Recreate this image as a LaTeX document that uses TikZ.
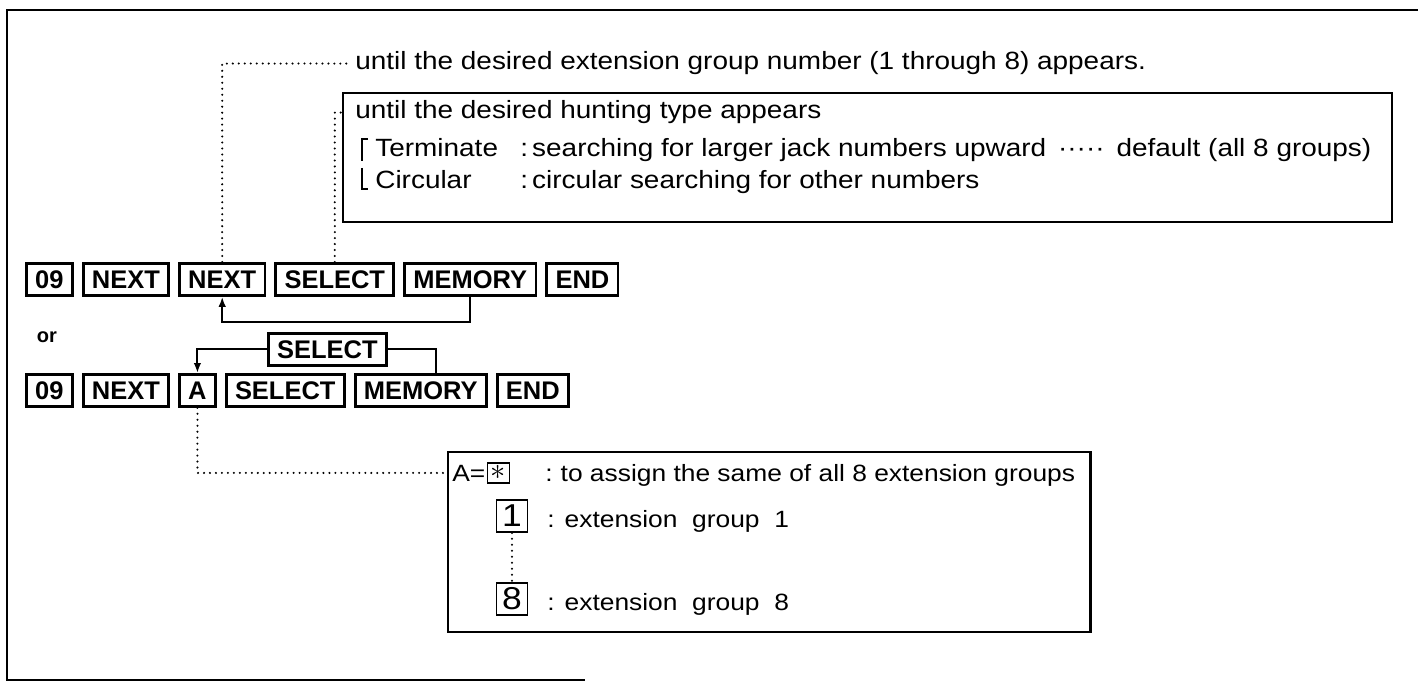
\documentclass[tikz,border=0pt]{standalone}
\usepackage{fontspec}
\setmainfont{Liberation Sans}
\newfontfamily\notefam{Liberation Sans}[FakeStretch=1.12]
\usetikzlibrary{positioning,arrows.meta,calc,fit}

\newcommand{\notesize}{\notefam\fontsize{14.2}{17}\selectfont}
\newcommand{\listsize}{\notefam\fontsize{13.4}{16}\selectfont}
\newcommand{\keysize}{\fontsize{14.5}{17}\selectfont\bfseries}
\newcommand{\digitsize}{\notefam\fontsize{18}{20}\selectfont}

\tikzset{
  key/.style={draw,line width=1.6pt,font=\keysize,inner xsep=5pt,inner ysep=2pt,
    minimum height=0.64cm},
  link/.style={line width=1.2pt},
  linkarrow/.style={-{Latex[length=2mm,width=1.5mm]},line width=1.2pt},
  dotline/.style={line width=1.3pt,line cap=round,dash pattern=on 0pt off 3.4pt},
  note/.style={font=\notesize,inner sep=0pt,anchor=base west},
  listnote/.style={font=\listsize,inner sep=0pt,anchor=base west},
  panel/.style={draw,line width=1.3pt,inner sep=0pt},
  digitbox/.style={draw,line width=1pt,font=\digitsize,inner sep=0pt,
    minimum width=0.62cm,minimum height=0.64cm},
  starbox/.style={draw,line width=1pt,inner sep=0pt,minimum width=0.44cm,
    minimum height=0.4cm,font=\fontsize{17}{17}\selectfont},
  frameline/.style={line width=1.6pt}
}

\begin{document}
\begin{tikzpicture}[x=0.02cm,y=-0.02cm,node distance=0.16cm]
  \useasboundingbox (0,0) rectangle (1418,682);
  \draw[frameline] (1418,10) -- (7,10) -- (7,680) -- (585,680);

  % first key sequence
  \node[key,anchor=north west] (zeroa) at (25,262) {09};
  \node[key,right=of zeroa] (nexta) {NEXT};
  \node[key,right=of nexta] (nextb) {NEXT};
  \node[key,right=of nextb] (sela) {SELECT};
  \node[key,right=of sela] (mema) {MEMORY};
  \node[key,right=of mema] (enda) {END};
  \draw[linkarrow] (mema.south) -- ++(0,25) -| (nextb.south);

  \node[font=\fontsize{11.4}{13}\selectfont\bfseries] (orword) at (47,337) {or};

  % second key sequence
  \node[key,anchor=north west] (zerob) at (25,373) {09};
  \node[key,right=of zerob] (nextc) {NEXT};
  \node[key,right=of nextc] (akey) {A};
  \node[key,right=of akey] (selb) {SELECT};
  \node[key,right=of selb] (memb) {MEMORY};
  \node[key,right=of memb] (endb) {END};
  \node[key,anchor=north west] (selmid) at (267,332) {SELECT};
  \draw[link] (selmid.east) -| ([xshift=0.3cm]memb.north);
  \draw[linkarrow] (selmid.west) -| (akey.north);

  % notes above
  \node[note] (topnote) at (355,70) {until the desired extension group number (1 through 8) appears.};
  \draw[dotline,shorten >=0.08cm] (nextb.north) |- (topnote.west);

  \node[note] (hunt) at (355,119) {until the desired hunting type appears};
  \node[note] (term) at (375,157) {\makebox[2.9cm][l]{Terminate}:\,searching for larger jack numbers upward \,·····\, default (all 8 groups)};
  \node[note] (circ) at (375,189) {\makebox[2.9cm][l]{Circular}:\,circular searching for other numbers};
  \draw[line width=0.9pt] (368,139) -- (362,139) -- (362,161);
  \draw[line width=0.9pt] (362,168) -- (362,189) -- (368,189);
  \coordinate (hbot) at (0,222);
  \coordinate (huntse) at ($(term.east)+(20,0)$);
  \node[panel,fit={(343,93) (huntse |- hbot)}] (huntbox) {};
  \draw[dotline] (sela.north) |- (huntbox.west |- hunt.west);

  % notes below
  \node[listnote] (aeq) at (452,481) {A=};
  \node[starbox,right=0.02cm of aeq] (star) {$\ast$};
  \node[listnote] (assign) at (545,481) {:\hspace{0.16cm}to assign the same of all 8 extension groups};
  \node[digitbox] (one) at (512,516) {1};
  \node[listnote] (grpone) at (547,527) {:\hspace{0.2cm}extension\ \ group\ \ 1};
  \node[digitbox] (eight) at (512,599) {8};
  \node[listnote] (grpeight) at (547,610) {:\hspace{0.2cm}extension\ \ group\ \ 8};
  \draw[dotline] (one.south) -- (eight.north);
  \coordinate (abot) at (0,632);
  \coordinate (aboxse) at ($(assign.east)+(15,0)$);
  \node[panel,fit={(448,452) (aboxse |- abot)}] (abox) {};
  \draw[dotline,shorten >=0.04cm] (akey.south) |- (abox.west |- aeq.west);
\end{tikzpicture}
\end{document}
